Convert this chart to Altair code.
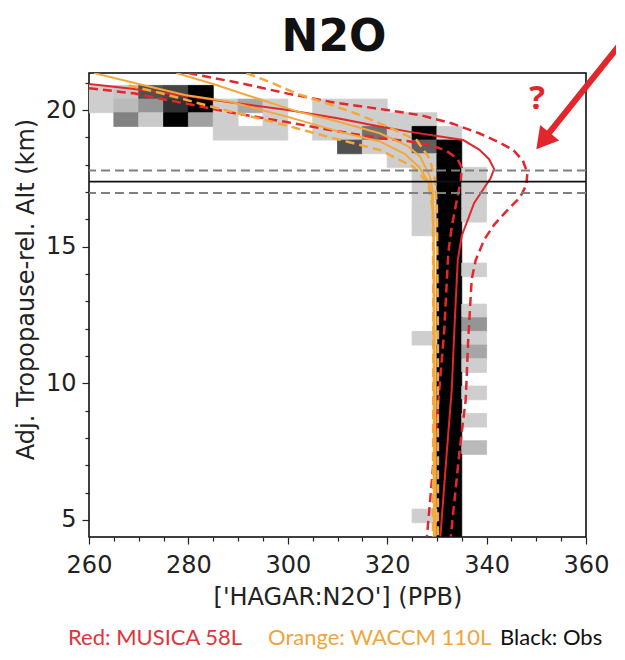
import altair as alt
import pandas as pd

# ---------------- data ----------------
# observation histogram cells: bin start (ppb, 5 ppb wide), bin centre altitude (km, 0.5 km tall), shade level 1..10
cell_ppb = [260, 265, 270, 275, 280,
            260, 265, 270, 275, 280, 285, 290, 295, 305, 310, 315,
            265, 270, 275, 280, 285, 295, 305, 310, 315, 320, 325,
            285, 290, 295, 305, 310, 315, 320, 325, 330,
            310, 315, 320, 325, 330,
            320, 325, 330,
            325, 330, 335,
            325, 330, 335,
            325, 330, 335,
            325, 330, 335,
            325, 330,
            330, 330, 330, 335, 330, 330, 330, 335, 330, 335,
            330, 335, 325, 330, 335, 330, 335, 330, 330, 335,
            330, 330, 335, 330, 330, 335, 330, 330, 330, 330,
            330, 325, 330]
cell_alt = [20.65, 20.65, 20.65, 20.65, 20.65,
            20.15, 20.15, 20.15, 20.15, 20.15, 20.15, 20.15, 20.15, 20.15, 20.15, 20.15,
            19.65, 19.65, 19.65, 19.65, 19.65, 19.65, 19.65, 19.65, 19.65, 19.65, 19.65,
            19.15, 19.15, 19.15, 19.15, 19.15, 19.15, 19.15, 19.15, 19.15,
            18.65, 18.65, 18.65, 18.65, 18.65,
            18.15, 18.15, 18.15,
            17.65, 17.65, 17.65,
            17.15, 17.15, 17.15,
            16.65, 16.65, 16.65,
            16.15, 16.15, 16.15,
            15.65, 15.65,
            15.15, 14.65, 14.15, 14.15, 13.65, 13.15, 12.65, 12.65, 12.15, 12.15,
            11.65, 11.65, 11.65, 11.15, 11.15, 10.65, 10.65, 10.15, 9.65, 9.65,
            9.15, 8.65, 8.65, 8.15, 7.65, 7.65, 7.15, 6.65, 6.15, 5.65,
            5.15, 5.15, 4.65]
cell_shade = [1.0, 1.3, 6.3, 6.8, 10,
              1.0, 1.8, 3.3, 7.8, 10, 1, 2.6, 1, 1, 1, 1,
              4.1, 1.2, 10, 2.8, 1, 1, 1, 1, 1, 1, 1,
              1, 1, 1, 1, 1, 4.8, 1, 10, 1,
              6.3, 1, 1, 5.6, 10,
              1, 1, 10,
              1, 10, 1,
              1, 10, 1,
              1, 10, 1,
              1, 10, 1,
              1, 10,
              10, 10, 10, 1, 10, 10, 10, 1, 10, 3.3,
              10, 1, 1, 10, 2.6, 10, 1, 10, 10, 1,
              10, 10, 1, 10, 10, 1.8, 10, 10, 10, 10,
              10, 1, 10]

# MUSICA 58L (red)
red_mean_ppb = [260, 270, 280, 289.4, 300, 310, 318.5, 324.6, 330, 335.3, 338.5, 340.5, 341.5, 340.8,
                339.7, 337.5, 335.0, 334.2, 333.6, 333.0, 332.0, 330.7]
red_mean_alt = [20.95, 20.75, 20.5, 20.26, 20.0, 19.7, 19.4, 19.2, 19.05, 18.9, 18.55, 18.2, 17.85, 17.5,
                17.2, 16.6, 15.4, 14.5, 12.3, 9.8, 7.5, 4.4]
red_hi_ppb = [280, 290, 300, 308.5, 320, 327, 333.2, 338.5, 342.7, 345.3, 347.3, 348.2, 348.0, 346.7,
              344.0, 341.5, 339.5, 337.8, 337.0, 336.3, 335.8, 334.6, 332.8]
red_hi_alt = [21.35, 21.0, 20.6, 20.3, 20.0, 19.8, 19.5, 19.15, 18.8, 18.55, 18.15, 17.7, 17.25, 16.8,
              16.3, 15.8, 15.25, 14.5, 13.8, 11.6, 9.4, 7.6, 4.4]
red_lo_ppb = [260, 269.3, 279.3, 289.4, 300, 308.5, 318.5, 324.6, 329, 332, 334.2, 335, 334.8, 334.3,
              333.0, 332.3, 331.5, 330.5, 329.5, 328.0]
red_lo_alt = [20.8, 20.6, 20.24, 19.88, 19.55, 19.27, 18.97, 18.85, 18.7, 18.5, 18.2, 17.9, 17.4, 16.97,
              15.75, 14.8, 12.0, 9.8, 7.5, 4.4]

# WACCM 110L (orange)
orange_a_ppb = [277.6, 285, 291.7, 301.8, 308.5, 318.5, 324, 326.6, 328.6, 329.2, 329.5, 329.6, 329.7]
orange_a_alt = [21.35, 20.95, 20.55, 19.95, 19.65, 19.15, 18.7, 18.3, 17.57, 16.97, 14.0, 9.0, 4.4]
orange_b_ppb = [261, 270, 279.3, 288.4, 300, 310.5, 318.5, 323.5, 326.5, 328.2, 329.0, 329.3, 329.4]
orange_b_alt = [21.35, 20.95, 20.55, 20.3, 19.75, 19.2, 18.85, 18.4, 17.9, 17.4, 16.9, 15.5, 4.4]
orange_hi_ppb = [291.7, 296.7, 301.8, 308.5, 314, 320, 325.9, 328.6, 329.6, 330.0, 330.2, 330.2]
orange_hi_alt = [21.35, 21.0, 20.6, 20.2, 19.85, 19.4, 18.9, 18.2, 17.45, 16.5, 12.0, 4.4]
orange_lo_ppb = [268, 274.6, 284.7, 298.4, 308.5, 318.5, 325.2, 328.2, 329.2, 329.3, 329.2]
orange_lo_alt = [20.9, 20.61, 20.12, 19.5, 19.0, 18.54, 17.93, 17.33, 16.35, 12.0, 4.4]

# tropopause reference lines (km)
trop_dashed_alt = [17.79, 16.96]
trop_solid_alt = [17.38]

X_DOMAIN = [260, 360]
Y_DOMAIN = [4.378, 21.354]
x_tick_values = [260, 265, 270, 275, 280, 285, 290, 295, 300, 305, 310, 315, 320, 325, 330,
                 335, 340, 345, 350, 355, 360]
y_tick_values = [5, 6, 7, 8, 9, 10, 11, 12, 13, 14, 15, 16, 17, 18, 19, 20, 21]

RED = "#e4262e"
ORANGE = "#f4a83a"

# ---------------- build chart ----------------
cells = pd.DataFrame({"x0": cell_ppb, "alt": cell_alt, "v": cell_shade})
cells["x1"] = cells["x0"] + 5
cells["y0"] = cells["alt"] - 0.25
cells["y1"] = cells["alt"] + 0.25

xs = alt.Scale(domain=X_DOMAIN, nice=False, zero=False)
ys = alt.Scale(domain=Y_DOMAIN, nice=False, zero=False)

xaxis = alt.Axis(
    values=x_tick_values,
    labelExpr="datum.value % 20 === 0 ? datum.label : ''",
    tickSize={"condition": {"test": "datum.value % 20 === 0", "value": 7}, "value": 4},
    title="['HAGAR:N2O'] (PPB)",
    titleY=67, titleBaseline="alphabetic",
    labelPadding=9, labelOverlap=False, labelFlush=False, grid=False, domain=False,
)
yaxis = alt.Axis(
    values=y_tick_values,
    labelExpr="datum.value % 5 === 0 ? datum.label : ''",
    tickSize={"condition": {"test": "datum.value % 5 === 0", "value": 7}, "value": 4},
    title="Adj. Tropopause-rel. Alt (km)",
    titleX=-56, titleY=216, titleAngle=270, titleAlign="center", titleBaseline="alphabetic",
    labelPadding=6, labelOverlap=False, labelFlush=False, grid=False, domain=False,
)

shade_scale = alt.Scale(domain=[1, 10], range=["#cecece", "#000000"])
heat = alt.Chart(cells).mark_rect(clip=True, strokeWidth=0.8).encode(
    x=alt.X("x0:Q", scale=xs, axis=xaxis),
    x2="x1",
    y=alt.Y("y0:Q", scale=ys, axis=yaxis),
    y2="y1",
    color=alt.Color("v:Q", scale=shade_scale, legend=None),
    stroke=alt.Stroke("v:Q", scale=shade_scale, legend=None),
)


def profile(ppb, km, color, dash, width):
    df = pd.DataFrame({"ppb": ppb, "alt": km, "i": list(range(len(ppb)))})
    props = dict(clip=True, color=color, strokeWidth=width)
    if dash:
        props["strokeDash"] = dash
    return alt.Chart(df).mark_line(**props).encode(
        x=alt.X("ppb:Q", scale=xs, axis=xaxis),
        y=alt.Y("alt:Q", scale=ys, axis=yaxis),
        order="i:Q",
    )


lines = [
    profile(red_hi_ppb, red_hi_alt, RED, [9, 5], 2.5),
    profile(red_lo_ppb, red_lo_alt, RED, [9, 5], 2.5),
    profile(red_mean_ppb, red_mean_alt, RED, None, 2),
    profile(orange_hi_ppb, orange_hi_alt, ORANGE, [9, 5], 2.5),
    profile(orange_lo_ppb, orange_lo_alt, ORANGE, [9, 5], 2.5),
    profile(orange_a_ppb, orange_a_alt, ORANGE, None, 2),
    profile(orange_b_ppb, orange_b_alt, ORANGE, None, 2),
]

trop_d = alt.Chart(pd.DataFrame({"alt": trop_dashed_alt})).mark_rule(
    color="#808080", strokeWidth=2, strokeDash=[9, 5]
).encode(y=alt.Y("alt:Q", scale=ys, axis=yaxis))
trop_s = alt.Chart(pd.DataFrame({"alt": trop_solid_alt})).mark_rule(
    color="#111111", strokeWidth=1.6
).encode(y=alt.Y("alt:Q", scale=ys, axis=yaxis))

one = pd.DataFrame({"k": [0]})
arrow_shaft = alt.Chart(one).mark_rule(color="#e3262c", strokeWidth=6, strokeCap="round").encode(
    x=alt.value(529), y=alt.value(-26), x2=alt.value(460), y2=alt.value(60)
)
arrow_head = alt.Chart(one).mark_point(
    shape="triangle-up", filled=True, color="#e3262c", size=600, angle=219, opacity=1
).encode(x=alt.value(454), y=alt.value(68))
qmark = alt.Chart(one).mark_text(
    text="?", color="#e3262c", fontSize=33, fontWeight="bold", font="Open Sans",
    align="center", baseline="middle"
).encode(x=alt.value(448), y=alt.value(26))

title = alt.Chart(one).mark_text(
    text="N2O", fontSize=44, fontWeight="bold", font="DejaVu Sans", color="#111",
    align="center", baseline="alphabetic"
).encode(x=alt.value(245), y=alt.value(-22))

foot_red = alt.Chart(one).mark_text(
    text="Red: MUSICA 58L", fontSize=22, font="Lato", color="#e0353b", align="left", baseline="alphabetic"
).encode(x=alt.value(-21), y=alt.value(572))
foot_orange = alt.Chart(one).mark_text(
    text="Orange: WACCM 110L", fontSize=22, font="Lato", color="#f0a53c", align="left", baseline="alphabetic"
).encode(x=alt.value(179), y=alt.value(572))
foot_black = alt.Chart(one).mark_text(
    text="Black: Obs", fontSize=22, font="Lato", color="#111", align="left", baseline="alphabetic"
).encode(x=alt.value(411), y=alt.value(572))

chart = alt.layer(
    heat, *lines, trop_d, trop_s, arrow_shaft, arrow_head, qmark, title, foot_red, foot_orange, foot_black
).properties(
    width=497,
    height=464,
    padding={"left": 81, "top": 65, "right": 30, "bottom": 115},
    autosize=alt.AutoSizeParams(type="none"),
).configure_view(
    stroke="black", strokeWidth=1.5
).configure_axis(
    labelFont="DejaVu Sans", labelFontSize=24, labelColor="#222",
    titleFont="DejaVu Sans", titleFontSize=24, titleColor="#222", titleFontWeight="normal",
    tickColor="#222", tickWidth=1.2,
)

chart.save("out.html", embed_options={"renderer": "svg", "actions": False})
